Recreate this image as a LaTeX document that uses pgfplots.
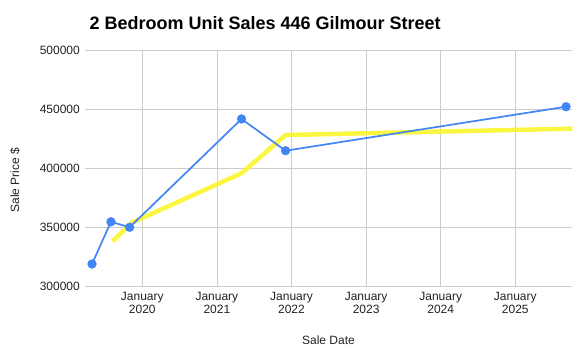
\documentclass[border=0pt]{standalone}
\usepackage{pgfplots}
\pgfplotsset{compat=1.18}
\usepackage{fontspec}
\setmainfont{Liberation Sans}
\definecolor{gblue}{HTML}{4285F4}
\definecolor{gyellow}{HTML}{FBF52E}
\definecolor{gridc}{HTML}{CCCCCC}
\definecolor{txt}{HTML}{222222}
\begin{document}
\begin{tikzpicture}[x=1pt,y=1pt]
\useasboundingbox (0,0) rectangle (580,360);
\begin{axis}[
  at={(85pt,73.7pt)}, anchor=south west,
  scale only axis, width=487.3pt, height=236pt,
  xmin=2019.232, xmax=2025.764,
  ymin=300000, ymax=500000,
  xtick={2020,2021,2022,2023,2024,2025},
  xticklabels={January\\2020,January\\2021,January\\2022,January\\2023,January\\2024,January\\2025},
  ytick={300000,350000,400000,450000,500000},
  scaled y ticks=false,
  /pgf/number format/assume math mode=true,
  yticklabel={\pgfmathprintnumber[fixed,1000 sep={}]{\tick}},
  major tick length=0pt,
  axis line style={draw=none},
  grid=major,
  grid style={gridc, line width=0.8pt},
  tick label style={font=\fontsize{12}{13}\selectfont, text=txt},
  xticklabel style={align=center, anchor=north, inner sep=0pt, yshift=-6pt},
  yticklabel style={anchor=east, inner sep=0pt, xshift=-5pt},
  clip=false,
]
\addplot[gyellow, line width=4.5pt, opacity=0.9] coordinates {
  (2019.60,338100) (2019.86,353900) (2021.33,395800) (2021.92,428200) (2025.764,433600)
};
\addplot[gblue, line width=1.7pt] coordinates {
  (2019.326,318900) (2019.58,354700) (2019.83,350000) (2021.33,441800) (2021.92,414900) (2025.68,452200)
};
\addplot[only marks, color=gblue, mark=*, mark size=4.5pt, mark options={fill=gblue, draw=gblue, line width=0.2pt}] coordinates {
  (2019.326,318900) (2019.58,354700) (2019.83,350000) (2021.33,441800) (2021.92,414900) (2025.68,452200)
};
\end{axis}
\node[anchor=west, font=\fontsize{18}{20}\selectfont\bfseries] at (86,337) {2 Bedroom Unit Sales 446 Gilmour Street};
\node[font=\fontsize{12}{13}\selectfont, text=txt] at (328.5,20) {Sale Date};
\node[font=\fontsize{12}{13}\selectfont, text=txt, rotate=90] at (15,180) {Sale Price \$};
\end{tikzpicture}
\end{document}
